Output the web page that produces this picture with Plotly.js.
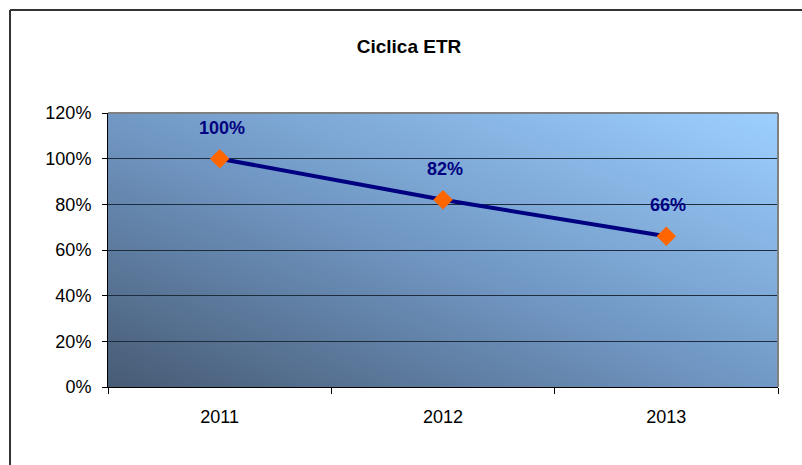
<!DOCTYPE html>
<html>
<head>
<meta charset="utf-8">
<script src="https://cdn.plot.ly/plotly-3.0.1.min.js"></script>
<style>
  html, body { margin: 0; padding: 0; background: #ffffff; }
  #chart { width: 802px; height: 465px; }
</style>
</head>
<body>
<div id="chart"></div>
<script>
const categories = ["2011", "2012", "2013"];
const values = [1.00, 0.82, 0.66];
const valueLabels = ["100%", "82%", "66%"];
const yTickValues = [0, 0.2, 0.4, 0.6, 0.8, 1.0, 1.2];
const yTickLabels = ["0%", "20%", "40%", "60%", "80%", "100%", "120%"];

const gradSvg = '<svg xmlns="http://www.w3.org/2000/svg" width="100" height="100" preserveAspectRatio="none">' +
  '<defs><linearGradient id="g" x1="0" y1="1" x2="1" y2="0">' +
  '<stop offset="0" stop-color="#475b74"/>' +
  '<stop offset="0.5" stop-color="#7299c6"/>' +
  '<stop offset="1" stop-color="#9dd0ff"/>' +
  '</linearGradient></defs>' +
  '<rect x="0" y="0" width="100" height="100" fill="url(#g)"/></svg>';
const gradUri = 'data:image/svg+xml;base64,' + btoa(gradSvg);

const trace = {
  type: 'scatter',
  mode: 'lines+markers',
  x: categories,
  y: values,
  line: { color: '#000080', width: 4 },
  marker: { symbol: 'diamond', color: '#ff6600', size: 15, line: { width: 0 } },
  hoverinfo: 'skip',
  cliponaxis: false
};

const annotations = [];
for (let i = 0; i < categories.length; i++) {
  annotations.push({
    x: i, y: values[i], xref: 'x', yref: 'y',
    text: '<b>' + valueLabels[i] + '</b>',
    showarrow: false, yshift: 31, xshift: 2,
    xanchor: 'center', yanchor: 'middle',
    font: { family: 'Liberation Sans', size: 18, color: '#000080' }
  });
}

const layout = {
  width: 802, height: 465,
  margin: { l: 108, r: 24, t: 113, b: 78 },
  paper_bgcolor: '#ffffff',
  plot_bgcolor: 'rgba(0,0,0,0)',
  showlegend: false,
  font: { family: 'Liberation Sans', size: 18, color: '#000000' },
  title: {
    text: '<b>Ciclica ETR</b>',
    font: { family: 'Liberation Sans', size: 19, color: '#000000' },
    x: 409 / 802, xanchor: 'center', xref: 'container',
    y: 1 - 46 / 465, yanchor: 'middle', yref: 'container'
  },
  xaxis: {
    type: 'category',
    range: [-0.5, 2.5],
    showgrid: false, zeroline: false,
    showline: true, linecolor: '#000000', linewidth: 1,
    ticks: 'outside', tickson: 'boundaries', ticklen: 6, tickcolor: '#000000',
    ticklabelstandoff: 13,
    tickfont: { size: 18 },
    fixedrange: true
  },
  yaxis: {
    range: [0, 1.2],
    tickvals: yTickValues, ticktext: yTickLabels,
    showgrid: true, gridcolor: '#1e2d3e', gridwidth: 1,
    zeroline: false,
    showline: true, linecolor: '#000000', linewidth: 1,
    ticks: 'outside', ticklen: 5, tickcolor: '#000000',
    ticklabelstandoff: 7,
    tickfont: { size: 18 },
    fixedrange: true
  },
  images: [{
    source: gradUri, xref: 'paper', yref: 'paper',
    x: 0, y: 1, sizex: 1, sizey: 1, xanchor: 'left', yanchor: 'top',
    sizing: 'stretch', layer: 'below'
  }],
  shapes: [
    { type: 'line', xref: 'paper', yref: 'paper', x0: 0, x1: 1, y0: 1, y1: 1,
      line: { color: '#808080', width: 2 } },
    { type: 'line', xref: 'paper', yref: 'paper', x0: 1, x1: 1, y0: 0, y1: 1,
      line: { color: '#808080', width: 2 } },
    { type: 'line', xref: 'paper', yref: 'paper', x0: -98 / 670, x1: 1.2, y0: 377 / 274, y1: 377 / 274,
      line: { color: '#333333', width: 2 } },
    { type: 'line', xref: 'paper', yref: 'paper', x0: -98 / 670, x1: -98 / 670, y0: -0.5, y1: 377 / 274,
      line: { color: '#333333', width: 2 } }
  ],
  annotations: annotations
};

Plotly.newPlot('chart', [trace], layout, { displayModeBar: false, staticPlot: true });
</script>
</body>
</html>
